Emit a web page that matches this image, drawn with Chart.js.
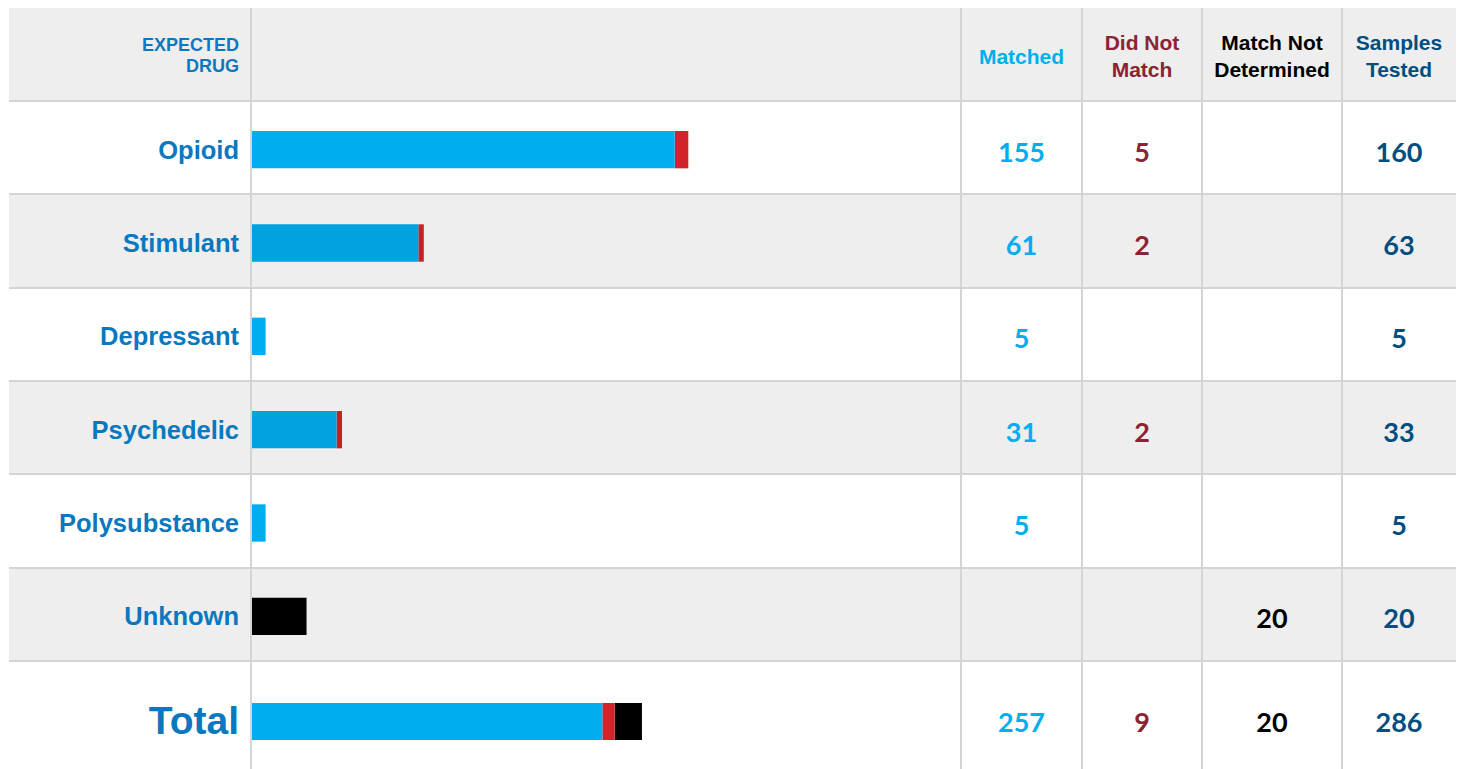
<!DOCTYPE html>
<html>
<head>
<meta charset="utf-8">
<script src="https://cdn.jsdelivr.net/npm/chart.js@4.4.1/dist/chart.umd.min.js"></script>
<style>
  html, body { margin: 0; padding: 0; background: #fff; }
  #sheet { position: relative; width: 1463px; height: 769px; overflow: hidden; }
  #sheet div { position: absolute; box-sizing: border-box; }
  .cell { display: flex; align-items: center; justify-content: center; text-align: center; }
  .hdr { font-family: "Liberation Sans", Arial, sans-serif; font-weight: 700; font-size: 21px; line-height: 27px; }
  .lbl { font-family: "Liberation Sans", Arial, sans-serif; font-weight: 700; font-size: 25.5px; color: #0a78bf; justify-content: flex-end; padding-right: 12px; padding-top: 5px; }
  .num { font-family: Lato, "Liberation Sans", sans-serif; font-weight: 700; font-size: 27px; padding-top: 7px; }
  canvas { position: absolute; mix-blend-mode: multiply; }
</style>
</head>
<body>
<div id="sheet"></div>
<script>
"use strict";
const categories = ["Opioid", "Stimulant", "Depressant", "Psychedelic", "Polysubstance", "Unknown"];
const matched = [155, 61, 5, 31, 5, null];
const didNotMatch = [5, 2, null, 2, null, null];
const notDetermined = [null, null, null, null, null, 20];
const columnHeaders = ["Matched", "Did Not<br>Match", "Match Not<br>Determined", "Samples<br>Tested"];
const columnColors = ["#00aeef", "#8b2332", "#000000", "#004d80"];
const seriesColors = ["#00aeef", "#d2232a", "#000000"];

const sum = (arr) => arr.reduce((a, v) => a + (v || 0), 0);
const samplesTested = categories.map((c, i) => (matched[i] || 0) + (didNotMatch[i] || 0) + (notDetermined[i] || 0));
const totals = [sum(matched), sum(didNotMatch), sum(notDetermined), sum(samplesTested)];

const sheet = document.querySelector("#sheet");
const colEdges = [9, 251, 961, 1082, 1202, 1342, 1456];
const headerTop = 8;
const bodyTop = 101;
const rowHeight = 93.33;
const totalTop = bodyTop + rowHeight * categories.length;
const bottom = 769;

function addDiv(cls, x, y, w, h, html, style) {
  const el = document.createElement("div");
  if (cls) el.className = cls;
  el.style.left = x + "px";
  el.style.top = y + "px";
  el.style.width = w + "px";
  el.style.height = h + "px";
  if (html !== undefined && html !== null) el.innerHTML = html;
  if (style) Object.assign(el.style, style);
  sheet.appendChild(el);
  return el;
}

// backgrounds
const tableWidth = colEdges[colEdges.length - 1] - colEdges[0];
addDiv(null, colEdges[0], headerTop, tableWidth, bodyTop - headerTop, null, { background: "#eeeeee" });
categories.forEach((c, i) => {
  if (i % 2 === 1) {
    addDiv(null, colEdges[0], bodyTop + i * rowHeight, tableWidth, rowHeight, null, { background: "#eeeeee" });
  }
});

// grid lines
for (let i = 0; i <= categories.length; i++) {
  addDiv(null, colEdges[0], Math.round(bodyTop + i * rowHeight) - 1, tableWidth, 2, null, { background: "#d4d4d4" });
}
colEdges.slice(1, -1).forEach((x) => {
  addDiv(null, x - 1, headerTop, 2, bottom - headerTop, null, { background: "#d4d4d4" });
});

// header texts
addDiv("cell hdr", colEdges[0], headerTop, colEdges[1] - colEdges[0], bodyTop - headerTop, "EXPECTED<br>DRUG", {
  color: "#0a78bf", fontSize: "18px", lineHeight: "21px", justifyContent: "flex-end", textAlign: "right", paddingRight: "12px", paddingTop: "2px"
});
columnHeaders.forEach((h, j) => {
  addDiv("cell hdr", colEdges[j + 2], headerTop, colEdges[j + 3] - colEdges[j + 2], bodyTop - headerTop, h, {
    color: columnColors[j], paddingTop: "3px"
  });
});

// row labels and numbers
categories.forEach((c, i) => {
  const y = bodyTop + i * rowHeight;
  addDiv("cell lbl", colEdges[0], y, colEdges[1] - colEdges[0], rowHeight, c);
  const vals = [matched[i], didNotMatch[i], notDetermined[i], samplesTested[i]];
  vals.forEach((v, j) => {
    if (v === null || v === undefined) return;
    addDiv("cell num", colEdges[j + 2], y, colEdges[j + 3] - colEdges[j + 2], rowHeight, String(v), { color: columnColors[j] });
  });
});
addDiv("cell lbl", colEdges[0], totalTop, colEdges[1] - colEdges[0], bottom - totalTop, "Total", {
  fontSize: "39px", paddingTop: "12px"
});
totals.forEach((v, j) => {
  addDiv("cell num", colEdges[j + 2], totalTop, colEdges[j + 3] - colEdges[j + 2], bottom - totalTop, String(v), {
    color: columnColors[j], paddingTop: "14px"
  });
});

// charts
function makeCanvas(x, y, w, h) {
  const cv = document.createElement("canvas");
  cv.width = w;
  cv.height = h;
  cv.style.left = x + "px";
  cv.style.top = y + "px";
  cv.style.width = w + "px";
  cv.style.height = h + "px";
  sheet.appendChild(cv);
  return cv;
}

function barOptions(xMax, padTop, catPct) {
  return {
    indexAxis: "y",
    responsive: false,
    animation: false,
    layout: { padding: { top: padTop, left: 0, right: 0, bottom: 0 } },
    plugins: { legend: { display: false }, tooltip: { enabled: false } },
    datasets: { bar: { categoryPercentage: catPct, barPercentage: 1, borderWidth: 0 } },
    scales: {
      x: { type: "linear", min: 0, max: xMax, stacked: true, display: false, grid: { display: false } },
      y: { stacked: true, display: false, grid: { display: false } },
    },
  };
}

const barLeft = colEdges[1] + 1;
const barWidth = colEdges[2] - barLeft;
const rowsCanvas = makeCanvas(barLeft, bodyTop + 2, barWidth, Math.round(totalTop - bodyTop));
new Chart(rowsCanvas, {
  type: "bar",
  data: {
    labels: categories,
    datasets: [
      { label: "Matched", data: matched, backgroundColor: seriesColors[0] },
      { label: "Did Not Match", data: didNotMatch, backgroundColor: seriesColors[1] },
      { label: "Match Not Determined", data: notDetermined, backgroundColor: seriesColors[2] },
    ],
  },
  options: barOptions(260, 0, 0.4),
});

const totalCanvas = makeCanvas(barLeft, Math.round(totalTop), barWidth, bottom - Math.round(totalTop));
new Chart(totalCanvas, {
  type: "bar",
  data: {
    labels: ["Total"],
    datasets: [
      { label: "Matched", data: [totals[0]], backgroundColor: seriesColors[0] },
      { label: "Did Not Match", data: [totals[1]], backgroundColor: seriesColors[1] },
      { label: "Match Not Determined", data: [totals[2]], backgroundColor: seriesColors[2] },
    ],
  },
  options: barOptions(520, 13, 0.39),
});
</script>
</body>
</html>
